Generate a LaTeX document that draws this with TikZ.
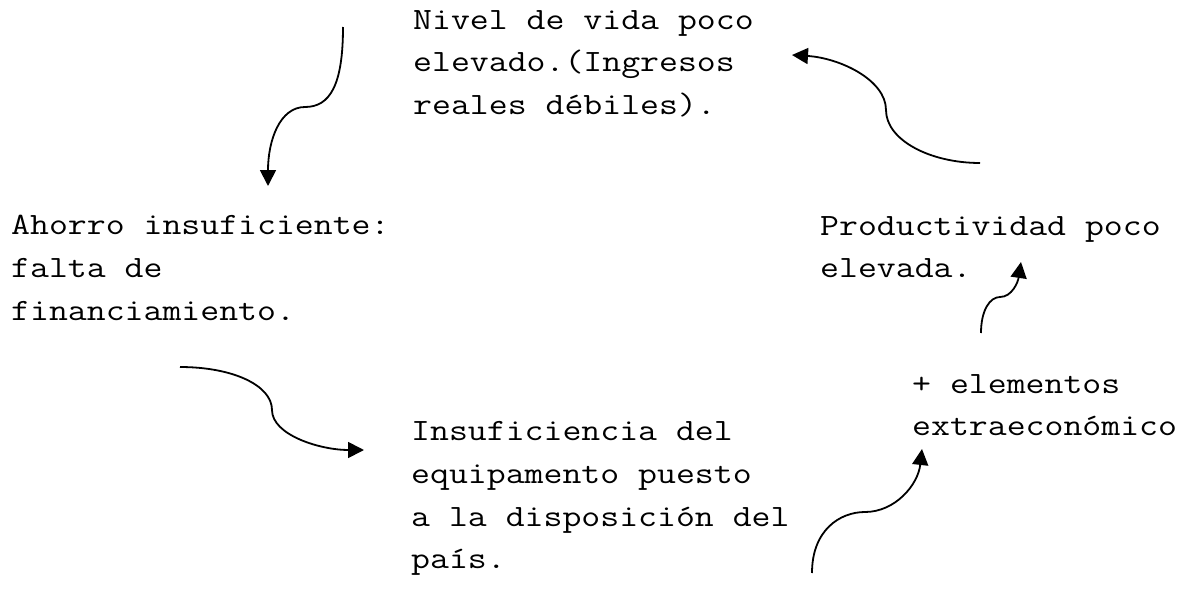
\documentclass[tikz,border=0pt]{standalone}
\usepackage{fontspec}
\setmonofont[FakeStretch=1.185]{Latin Modern Mono}
\usetikzlibrary{arrows.meta}
\tikzset{
  lbl/.style={anchor=base west, inner sep=0pt, align=left,
    font=\ttfamily\fontsize{31}{42.6}\selectfont},
  curvearrow/.style={line width=1.8pt, -{Triangle[length=16pt,width=16pt]}}
}
\begin{document}
\begin{tikzpicture}[x=1pt,y=-1pt]
\useasboundingbox (0,0) rectangle (1195,589);
% base anchor = baseline of the last line
\node[lbl] (nivel) at (413,114.4) {Nivel de vida poco\\elevado.(Ingresos\\reales débiles).};
\node[lbl] (ahorro) at (11,320) {Ahorro insuficiente:\\falta de\\financiamiento.};
\node[lbl] (prod) at (820,277.6) {Productividad poco\\elevada.};
\node[lbl] (extra) at (912,435.6) {+ elementos\\extraeconómico};
\node[lbl] (insuf) at (411,568.6) {Insuficiencia del\\equipamento puesto\\a la disposición del\\país.};
\coordinate (a1s) at (343,27);
\coordinate (a1e) at (268,186);
\coordinate (a2s) at (180,367);
\coordinate (a2e) at (364,450);
\coordinate (a3s) at (812,573);
\coordinate (a3e) at (922,449);
\coordinate (a4s) at (981,333);
\coordinate (a4e) at (1021,262);
\coordinate (a5s) at (980,163);
\coordinate (a5e) at (792,55);
\draw[curvearrow] (a1s) .. controls (343,85) and (330,107) .. (305,107) .. controls (280,107) and (268,140) .. (a1e);
\draw[curvearrow] (a2s) .. controls (232,367) and (272,385) .. (272,410) .. controls (272,435) and (320,450) .. (a2e);
\draw[curvearrow] (a3s) .. controls (812,530) and (840,512) .. (865,512) .. controls (895,512) and (918,485) .. (a3e);
\draw[curvearrow] (a4s) .. controls (981,310) and (990,297) .. (1000,297) .. controls (1012,297) and (1018,282) .. (a4e);
\draw[curvearrow] (a5s) .. controls (930,163) and (886,140) .. (886,110) .. controls (886,80) and (840,58) .. (a5e);
\end{tikzpicture}
\end{document}
